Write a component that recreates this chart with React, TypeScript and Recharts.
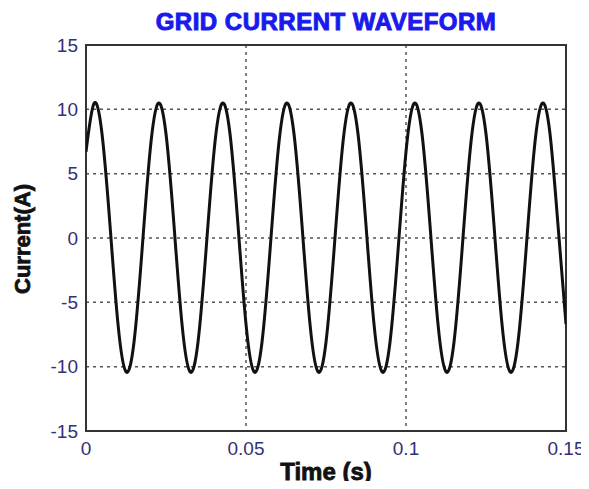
import React from 'react';
import { LineChart, Line, XAxis, YAxis, CartesianGrid, ReferenceArea } from 'recharts';

const timeS = [
  0, 0.0025, 0.005, 0.0075, 0.01, 0.0125, 0.015, 0.0175,
  0.02, 0.0225, 0.025, 0.0275, 0.03, 0.0325, 0.035, 0.0375,
  0.04, 0.0425, 0.045, 0.0475, 0.05, 0.0525, 0.055, 0.0575,
  0.06, 0.0625, 0.065, 0.0675, 0.07, 0.0725, 0.075, 0.0775,
  0.08, 0.0825, 0.085, 0.0875, 0.09, 0.0925, 0.095, 0.0975,
  0.1, 0.1025, 0.105, 0.1075, 0.11, 0.1125, 0.115, 0.1175,
  0.12, 0.1225, 0.125, 0.1275, 0.13, 0.1325, 0.135, 0.1375,
  0.14, 0.1425, 0.145, 0.1475, 0.15,
];

const currentA = [
  6.7, 10.45, 8.1, 1.0, -6.7, -10.4, -8.1, -1.0,
  6.7, 10.45, 8.1, 1.0, -6.7, -10.4, -8.1, -1.0,
  6.7, 10.45, 8.1, 1.0, -6.7, -10.4, -8.1, -1.0,
  6.7, 10.45, 8.1, 1.0, -6.7, -10.4, -8.1, -1.0,
  6.7, 10.45, 8.1, 1.0, -6.7, -10.4, -8.1, -1.0,
  6.7, 10.45, 8.1, 1.0, -6.7, -10.4, -8.1, -1.0,
  6.7, 10.45, 8.1, 1.0, -6.7, -10.4, -8.1, -1.0,
  6.7, 10.45, 8.1, 1.0, -6.7,
];

const xTicks = [0, 0.05, 0.1, 0.15];
const yTicks = [-15, -10, -5, 0, 5, 10, 15];

const titleText = 'GRID CURRENT WAVEFORM';
const xLabelText = 'Time (s)';
const yLabelText = 'Current(A)';

const data = timeS.map((t, i) => ({ t, current: currentA[i] }));

const FONT = '"Liberation Sans", Arial, sans-serif';
const TICK_COLOR = '#33307a';

export default function App() {
  return (
    <div style={{ position: 'relative', width: 581, height: 473, fontFamily: FONT }}>
      <div
        style={{
          position: 'absolute',
          left: 78,
          width: 480,
          top: 2,
          textAlign: 'center',
          fontSize: 24,
          lineHeight: '24px',
          fontWeight: 'bold',
          letterSpacing: 0.5,
          color: '#1a1aee',
          WebkitTextStroke: '1px #1a1aee',
          whiteSpace: 'nowrap',
        }}
      >
        {titleText}
      </div>
      <div
        style={{
          position: 'absolute',
          left: 78,
          width: 480,
          top: 452,
          textAlign: 'center',
          fontSize: 24,
          lineHeight: '24px',
          fontWeight: 'bold',
          color: '#111',
          WebkitTextStroke: '0.8px #111',
          whiteSpace: 'nowrap',
        }}
      >
        {xLabelText}
      </div>
      <div
        style={{
          position: 'absolute',
          left: 15 - 100,
          top: 231 - 12,
          width: 200,
          textAlign: 'center',
          fontSize: 22,
          lineHeight: '24px',
          fontWeight: 'bold',
          color: '#111',
          WebkitTextStroke: '0.8px #111',
          transform: 'rotate(-90deg)',
          whiteSpace: 'nowrap',
        }}
      >
        {yLabelText}
      </div>
      <LineChart
        width={581}
        height={473}
        data={data}
        margin={{ top: 37, right: 23, bottom: 20, left: 5 }}
      >
        <CartesianGrid stroke="#555" strokeDasharray="3 4" strokeWidth={1.5} />
        <XAxis
          dataKey="t"
          type="number"
          domain={[0, 0.15]}
          ticks={xTicks}
          allowDataOverflow
          axisLine={false}
          tickLine={false}
          tickMargin={5}
          height={30}
          tick={{ fill: TICK_COLOR, fontSize: 19, fontFamily: FONT }}
        />
        <YAxis
          type="number"
          domain={[-15, 15]}
          ticks={yTicks}
          allowDataOverflow
          axisLine={false}
          tickLine={false}
          width={73}
          tick={{ fill: TICK_COLOR, fontSize: 19, fontFamily: FONT }}
        />
        <ReferenceArea
          x1={0}
          x2={0.15}
          y1={-15}
          y2={15}
          fill="none"
          stroke="#333"
          strokeWidth={2}
          ifOverflow="visible"
        />
        <Line
          dataKey="current"
          type="natural"
          stroke="#111"
          strokeWidth={3}
          dot={false}
          isAnimationActive={false}
        />
      </LineChart>
    </div>
  );
}
